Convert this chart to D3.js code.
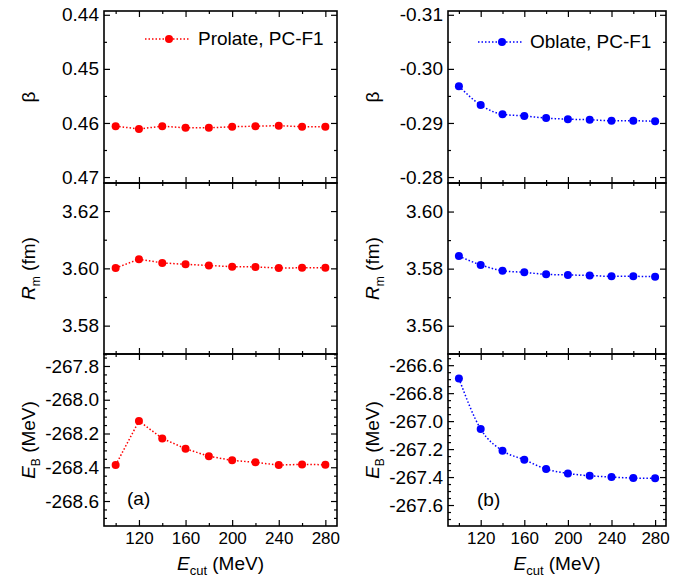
<!DOCTYPE html>
<html><head><meta charset="utf-8">
<script src="https://cdn.jsdelivr.net/npm/d3@7"></script>
<style>
body{margin:0;background:#fff}
svg{display:block}
text{font-family:"Liberation Sans",Arial,sans-serif;fill:#000}
</style>
</head><body>
<svg id="c" width="683" height="579"></svg>
<script>
// ---- data ----
const ecut = [100,120,140,160,180,200,220,240,260,280];
const xTicksMajor = [120,160,200,240,280];
const xTicksMinor = [100,140,180,220,260];

const betaProlate = [0.4606,0.4611,0.4606,0.4609,0.4609,0.4607,0.4606,0.4605,0.4607,0.4607];
const betaOblate  = [-0.2968,-0.2933,-0.2916,-0.2913,-0.2909,-0.2907,-0.2906,-0.2904,-0.2904,-0.2903];
const rmProlate   = [3.6001,3.6032,3.6019,3.6014,3.6010,3.6006,3.6005,3.6001,3.6002,3.6002];
const rmOblate    = [3.5844,3.5813,3.5793,3.5787,3.5780,3.5778,3.5776,3.5773,3.5773,3.5772];
const ebProlate   = [-268.387,-268.126,-268.229,-268.290,-268.335,-268.359,-268.371,-268.387,-268.383,-268.385];
const ebOblate    = [-266.695,-267.057,-267.212,-267.276,-267.343,-267.374,-267.391,-267.400,-267.407,-267.409];

const betaProlateTicks = [0.44,0.45,0.46,0.47];
const betaOblateTicks  = [-0.31,-0.30,-0.29,-0.28];
const rmProlateTicks   = [3.58,3.60,3.62];
const rmOblateTicks    = [3.56,3.58,3.60];
const ebProlateTicks   = [-267.8,-268.0,-268.2,-268.4,-268.6];
const ebOblateTicks    = [-266.6,-266.8,-267.0,-267.2,-267.4,-267.6];

const legendLabels = ["Prolate, PC-F1","Oblate, PC-F1"];
const panelTags = ["(a)","(b)"];
const seriesColors = ["#ff0000","#0000ff"];

// ---- layout ----
const svg = d3.select("#c");
const cols = [{x0:104,x1:337,curve:d3.curveLinear},{x0:448,x1:666,curve:d3.curveMonotoneX}];
const rows = [{y0:11,y1:183},{y0:183,y1:354},{y0:354,y1:526}];
const fs = 19;

function range(a,b,s){const out=[];const n=Math.round((b-a)/s);for(let i=0;i<=n;i++)out.push(+(a+i*s).toFixed(4));return out;}

const panels = [
  [{vals:betaProlate, dom:[0.4393,0.4711], major:betaProlateTicks, minor:[0.445,0.455,0.465], fmt:2},
   {vals:betaOblate, dom:[-0.3107,-0.2789], major:betaOblateTicks, minor:[-0.305,-0.295,-0.285], fmt:2}],
  [{vals:rmProlate, dom:[3.6298,3.5701], major:rmProlateTicks, minor:[3.57,3.59,3.61], fmt:2},
   {vals:rmOblate, dom:[3.6100,3.5501], major:rmOblateTicks, minor:[3.57,3.59], fmt:2}],
  [{vals:ebProlate, dom:[-267.729,-268.748], major:ebProlateTicks, minor:range(-268.7,-267.75,0.05), fmt:1},
   {vals:ebOblate, dom:[-266.52,-267.75], major:ebOblateTicks, minor:range(-267.7,-266.55,0.05), fmt:1}]
];

function styleAxis(g, size){
  g.select(".domain").remove();
  g.selectAll(".tick line").attr("stroke","#000").attr("stroke-width",1.2);
  g.selectAll("text").attr("font-size",size).attr("font-family",'"Liberation Sans",Arial,sans-serif').attr("fill","#000");
  g.attr("font-family",null).attr("font-size",null);
}

panels.forEach((row,ri)=>{
  row.forEach((p,ci)=>{
    const c = cols[ci], r = rows[ri], color = seriesColors[ci];
    const x = d3.scaleLinear().domain([90,290]).range([c.x0,c.x1]);
    const y = d3.scaleLinear().domain(p.dom).range([r.y0,r.y1]);
    const minorY = p.minor.filter(v=>!p.major.some(m=>Math.abs(m-v)<1e-6));
    const fmt = d=>d.toFixed(p.fmt);

    svg.append("g").attr("transform",`translate(${c.x0},0)`)
      .call(d3.axisLeft(y).tickValues(p.major).tickSize(-6).tickPadding(5).tickFormat(fmt))
      .call(g=>styleAxis(g,fs));
    svg.append("g").attr("transform",`translate(${c.x0},0)`)
      .call(d3.axisLeft(y).tickValues(minorY).tickSize(-3).tickFormat(""))
      .call(g=>styleAxis(g,fs));
    svg.append("g").attr("transform",`translate(${c.x1},0)`)
      .call(d3.axisRight(y).tickValues(p.major).tickSize(-6).tickFormat(""))
      .call(g=>styleAxis(g,fs));
    svg.append("g").attr("transform",`translate(${c.x1},0)`)
      .call(d3.axisRight(y).tickValues(minorY).tickSize(-3).tickFormat(""))
      .call(g=>styleAxis(g,fs));
    const isBottom = ri===2;
    svg.append("g").attr("transform",`translate(0,${r.y1})`)
      .call(d3.axisBottom(x).tickValues(xTicksMajor).tickSize(-6).tickPadding(6).tickFormat(isBottom?d3.format("d"):""))
      .call(g=>styleAxis(g,17));
    svg.append("g").attr("transform",`translate(0,${r.y1})`)
      .call(d3.axisBottom(x).tickValues(xTicksMinor).tickSize(-3).tickFormat(""))
      .call(g=>styleAxis(g,17));
    svg.append("g").attr("transform",`translate(0,${r.y0})`)
      .call(d3.axisTop(x).tickValues(xTicksMajor).tickSize(-6).tickFormat(""))
      .call(g=>styleAxis(g,17));
    svg.append("g").attr("transform",`translate(0,${r.y0})`)
      .call(d3.axisTop(x).tickValues(xTicksMinor).tickSize(-3).tickFormat(""))
      .call(g=>styleAxis(g,17));

    svg.append("rect").attr("x",c.x0).attr("y",r.y0).attr("width",c.x1-c.x0).attr("height",r.y1-r.y0)
      .attr("fill","none").attr("stroke","#000").attr("stroke-width",1.6);

    const pts = ecut.map((e,i)=>[x(e),y(p.vals[i])]);
    svg.append("path").attr("d",d3.line().curve(c.curve)(pts))
      .attr("fill","none").attr("stroke",color).attr("stroke-width",1.5).attr("stroke-dasharray","1.5,2");
    svg.append("g").selectAll("circle").data(pts).join("circle")
      .attr("cx",d=>d[0]).attr("cy",d=>d[1]).attr("r",4).attr("fill",color);

    const tx = c.x0-69, ty = (r.y0+r.y1)/2;
    const t = svg.append("text").attr("transform",`translate(${tx},${ty}) rotate(-90)`)
      .attr("text-anchor","middle").attr("font-size",fs);
    if(ri===0){
      t.append("tspan").text("β");
    } else if(ri===1){
      t.append("tspan").attr("font-style","italic").text("R");
      t.append("tspan").attr("font-size",12).attr("dy",5).text("m");
      t.append("tspan").attr("dy",-5).text(" (fm)");
    } else {
      t.append("tspan").attr("font-style","italic").text("E");
      t.append("tspan").attr("font-size",12).attr("dy",5).text("B");
      t.append("tspan").attr("dy",-5).text(" (MeV)");
    }
  });
});

cols.forEach(c=>{
  const t = svg.append("text").attr("x",(c.x0+c.x1)/2).attr("y",570).attr("text-anchor","middle").attr("font-size",fs);
  t.append("tspan").attr("font-style","italic").text("E");
  t.append("tspan").attr("font-size",13).attr("dy",5).text("cut");
  t.append("tspan").attr("dy",-5).text(" (MeV)");
});

const legendPos = [{lx0:145,lx1:190,mx:169,ly:39,tx:198,ty:45},{lx0:478,lx1:523,mx:502,ly:42,tx:530,ty:48}];
legendPos.forEach((l,i)=>{
  svg.append("line").attr("x1",l.lx0).attr("x2",l.lx1).attr("y1",l.ly).attr("y2",l.ly)
    .attr("stroke",seriesColors[i]).attr("stroke-width",1.5).attr("stroke-dasharray","1.5,2");
  svg.append("circle").attr("cx",l.mx).attr("cy",l.ly).attr("r",4).attr("fill",seriesColors[i]);
  svg.append("text").attr("x",l.tx).attr("y",l.ty).attr("font-size",fs).text(legendLabels[i]);
});

const tagPos = [{x:127,y:505},{x:477,y:506}];
tagPos.forEach((p,i)=>svg.append("text").attr("x",p.x).attr("y",p.y).attr("font-size",fs).text(panelTags[i]));
</script>
</body></html>
